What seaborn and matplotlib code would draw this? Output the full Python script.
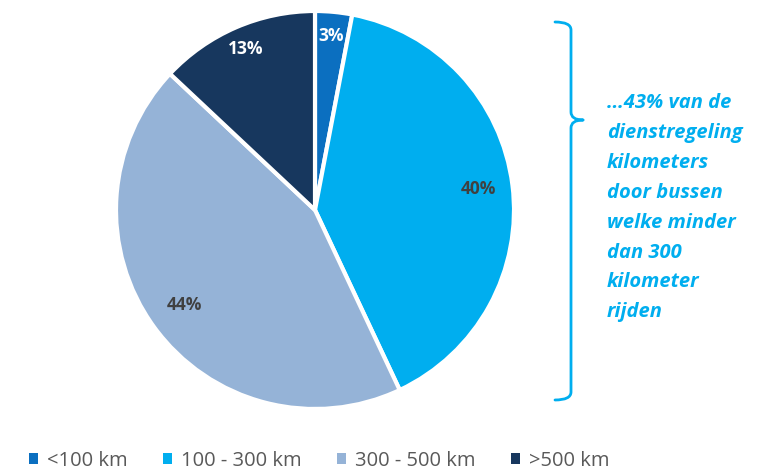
import matplotlib
matplotlib.use("Agg")
import matplotlib.pyplot as plt
import seaborn as sns
import numpy as np
from matplotlib.path import Path
from matplotlib.patches import PathPatch, Rectangle

categories = ["<100 km", "100 - 300 km", "300 - 500 km", ">500 km"]
values = [3, 40, 44, 13]
colors = ["#0b6fc0", "#00aeef", "#95b3d7", "#17375e"]
label_colors = ["white", "#404040", "#404040", "white"]
annotation = "…43% van de\ndienstregeling\nkilometers\ndoor bussen\nwelke minder\ndan 300\nkilometer\nrijden"

sns.set_theme(style="white")
plt.rcParams["font.family"] = ["Open Sans", "DejaVu Sans"]

W, H = 776, 472
fig = plt.figure(figsize=(W / 100, H / 100), dpi=100)
ax = fig.add_axes([0, 0, 1, 1])

cx, cy, r = 315, H - 210, 199
wedges, _ = ax.pie(values, colors=colors, startangle=90, counterclock=False,
                   center=(cx, cy), radius=r, frame=True,
                   wedgeprops=dict(edgecolor="white", linewidth=3))
ax.set_xlim(0, W)
ax.set_ylim(0, H)
ax.set_aspect("equal")
ax.axis("off")

dists = [0.88, 0.83, 0.81, 0.88]
for w, v, lc, d in zip(wedges, values, label_colors, dists):
    ang = np.deg2rad((w.theta1 + w.theta2) / 2)
    ax.text(cx + d * r * np.cos(ang), cy + d * r * np.sin(ang), f"{v}%",
            ha="center", va="center", color=lc, fontsize=12.5, fontweight="bold")

# bracket
bc = "#00aeef"
def py(y):
    return H - y
verts = [(555, py(22)), (571, py(22)), (571, py(30)),
         (571, py(112)), (571, py(120)), (583, py(120)),
         (583, py(120)), (571, py(120)), (571, py(128)),
         (571, py(392)), (571, py(400)), (555, py(400))]
codes = [Path.MOVETO, Path.CURVE3, Path.CURVE3,
         Path.LINETO, Path.CURVE3, Path.CURVE3,
         Path.MOVETO, Path.CURVE3, Path.CURVE3,
         Path.LINETO, Path.CURVE3, Path.CURVE3]
ax.add_patch(PathPatch(Path(verts, codes), facecolor="none", edgecolor=bc,
                       linewidth=2, capstyle="round", joinstyle="round"))

ax.text(607, py(93), annotation, ha="left", va="top", color=bc,
        fontsize=14.5, fontweight="bold", fontstyle="italic", linespacing=1.66)

# legend
handles = [Rectangle((0, 0), 1, 1, facecolor=c, edgecolor="none") for c in colors]
fig.legend(handles, categories, loc="center", bbox_to_anchor=(319 / W, 1 - 461 / H),
           ncol=4, frameon=False, fontsize=14.5, handlelength=0.45, handleheight=0.45,
           handletextpad=0.45, columnspacing=1.75, labelcolor="#595959")

fig.savefig("out.png", dpi=100)
